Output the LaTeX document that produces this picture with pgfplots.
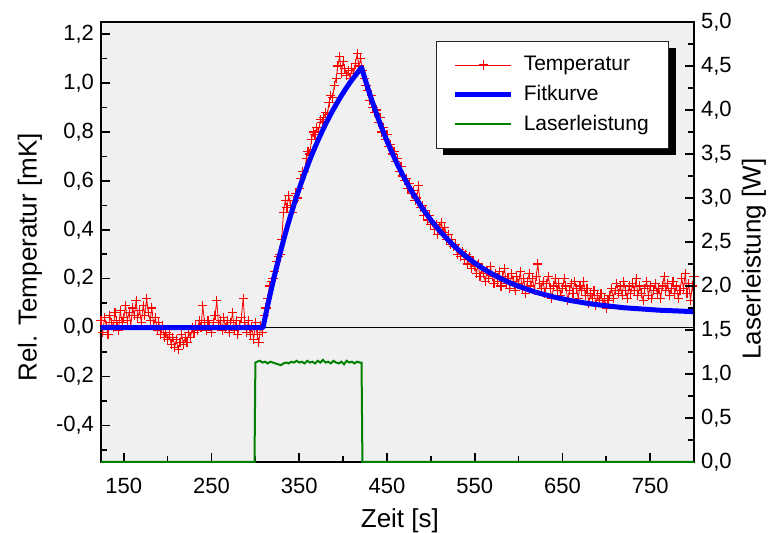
\documentclass[border=0pt]{standalone}
\usepackage{fontspec}
\setmainfont{Liberation Sans}
\usepackage{pgfplots}
\pgfplotsset{compat=1.18}
\definecolor{bggray}{RGB}{240,240,240}
\definecolor{dgreen}{RGB}{0,128,0}
\begin{document}
\begin{tikzpicture}
\pgfplotsset{
  every axis/.append style={
    scale only axis, width=296.5pt, height=220pt,
    xmin=124, xmax=800,
    tick align=inside,
    major tick length=4.5pt, minor tick length=3pt,
    every tick/.style={line width=0.8pt, black},
    axis line style={line width=1pt, black},
    tick label style={font=\fontsize{11}{13}\selectfont},
    /pgf/number format/assume math mode=true,
  },
}
\begin{axis}[
  ymin=-0.55, ymax=1.25,
  axis background/.style={fill=bggray},
  xtick={150,250,350,450,550,650,750},
  minor xtick={200,300,400,500,600,700},
  ytick={-0.4,-0.2,0,0.2,0.4,0.6,0.8,1.0,1.2},
  minor ytick={-0.5,-0.3,-0.1,0.1,0.3,0.5,0.7,0.9,1.1},
  xtick pos=bottom, ytick pos=left,
  xticklabel style={yshift=-4.5pt},
  yticklabel style={/pgf/number format/.cd, use comma, fixed, fixed zerofill, precision=1},
  xlabel={Zeit [s]},
  ylabel={Rel. Temperatur [mK]},
  every axis x label/.style={at={(axis description cs:0.504,-0.134)}, anchor=center, font=\fontsize{13}{15}\selectfont},
  every axis y label/.style={at={(axis description cs:-0.120,0.465)}, rotate=90, anchor=center, font=\fontsize{13}{15}\selectfont},
  legend cell align=left,
  legend image code/.code={\draw[mark repeat=2,mark phase=2,#1] plot coordinates {(0pt,0pt) (14pt,0pt) (28pt,0pt)};},
  legend style={name=leg, at={(0.958,0.957)}, anchor=north east,
    font=\fontsize{10.5}{12}\selectfont,
    draw=black!85, fill=white,
    inner xsep=8pt, inner ysep=5.5pt, row sep=1.8pt, column sep=3pt},
]
\coordinate (SW) at (rel axis cs:0,0);
\coordinate (NE) at (rel axis cs:1,1);
\addplot[black, line width=0.5pt, forget plot] coordinates {(124,0) (800,0)};
\addplot[red, line width=0.4pt, mark=+, mark size=2.3pt, mark options={red, solid, line width=0.55pt}] coordinates {
(124,0.03) (126,-0.02) (128,0.04) (130,0.01) (132,-0.03) (134,0.05) (136,0.02) (138,0.00) (140,0.06) (142,0.03)
(144,-0.01) (146,0.07) (148,0.02) (150,0.04) (152,0.09) (154,0.03) (156,0.06) (158,0.01) (160,0.08) (162,0.05)
(164,0.11) (166,0.04) (168,0.07) (170,0.02) (172,0.09) (174,0.05) (176,0.12) (178,0.06) (180,0.03) (182,0.08)
(184,0.01) (186,0.04) (188,-0.01) (190,0.02) (192,-0.03) (194,0.01) (196,-0.04) (198,-0.02) (200,-0.05) (202,-0.03)
(204,-0.07) (206,-0.04) (208,-0.08) (210,-0.05) (212,-0.09) (214,-0.06) (216,-0.03) (218,-0.07) (220,-0.04) (222,-0.06)
(224,-0.02) (226,-0.04) (228,0.00) (230,-0.02) (232,0.01) (234,-0.01) (236,0.03) (238,0.00) (240,0.09) (242,0.02)
(244,-0.01) (246,0.03) (248,0.01) (250,-0.02) (252,0.02) (254,0.05) (256,0.11) (258,0.01) (260,0.03) (262,-0.01)
(264,0.04) (266,0.00) (268,0.03) (270,-0.02) (272,0.02) (274,0.06) (276,-0.01) (278,0.03) (280,-0.03) (282,0.01)
(284,0.04) (286,0.12) (288,0.02) (290,-0.02) (292,0.03) (294,-0.03) (296,0.00) (298,-0.05) (300,0.02) (302,-0.03)
(304,-0.06) (306,0.01) (308,-0.02)
(310,0.05) (312,0.08) (314,0.12) (316,0.17) (318,0.19) (320,0.20) (322,0.23) (324,0.27) (326,0.29) (328,0.30)
(330,0.36) (332,0.47) (334,0.52) (336,0.49) (338,0.54) (340,0.50) (342,0.47) (344,0.52) (346,0.55) (348,0.53)
(350,0.57) (352,0.61) (354,0.64) (356,0.64) (358,0.69) (360,0.72) (362,0.71) (364,0.77) (366,0.80) (368,0.79)
(370,0.82) (372,0.80) (374,0.85) (376,0.84) (378,0.86) (380,0.88) (382,0.87) (384,0.92) (386,0.95) (388,0.94)
(390,0.99) (392,1.02) (394,1.07) (396,1.11) (398,1.04) (400,1.09) (402,1.06) (404,1.03) (406,1.05) (408,1.02)
(410,1.06) (412,1.04) (414,1.08) (416,1.12) (418,1.07) (420,1.10)
(422,1.05) (424,1.02) (426,0.99) (428,0.97) (430,0.93) (432,0.95) (434,0.90) (436,0.88) (438,0.89) (440,0.84)
(442,0.86) (444,0.80) (446,0.82) (448,0.77) (450,0.79) (452,0.74) (454,0.75) (456,0.71) (458,0.72) (460,0.68)
(462,0.69) (464,0.64) (466,0.66) (468,0.62) (470,0.60) (472,0.61) (474,0.57) (476,0.59) (478,0.55) (480,0.56)
(482,0.52) (484,0.53) (486,0.58) (488,0.49) (490,0.50) (492,0.46) (494,0.48) (496,0.44) (498,0.46) (500,0.42)
(502,0.43) (504,0.40) (506,0.42) (508,0.38) (510,0.41) (512,0.43) (514,0.39) (516,0.41) (518,0.36) (520,0.38)
(522,0.34) (524,0.36) (526,0.33) (528,0.34) (530,0.30) (532,0.32) (534,0.29) (536,0.31) (538,0.28) (540,0.30)
(542,0.26) (544,0.29) (546,0.24) (548,0.27) (550,0.25) (552,0.22) (554,0.26) (556,0.21) (558,0.24) (560,0.22)
(562,0.19) (564,0.23) (566,0.20) (568,0.25) (570,0.21) (572,0.18) (574,0.22) (576,0.19) (578,0.23) (580,0.17)
(582,0.21) (584,0.24) (586,0.18) (588,0.20) (590,0.16) (592,0.22) (594,0.19) (596,0.15) (598,0.21) (600,0.18)
(602,0.23) (604,0.16) (606,0.20) (608,0.14) (610,0.19) (612,0.22) (614,0.17) (616,0.20) (618,0.15) (620,0.21)
(622,0.26) (624,0.18) (626,0.16) (628,0.19) (630,0.14) (632,0.18) (634,0.21) (636,0.16) (638,0.12) (640,0.17)
(642,0.20) (644,0.15) (646,0.18) (648,0.13) (650,0.16) (652,0.20) (654,0.17) (656,0.11) (658,0.15) (660,0.18)
(662,0.14) (664,0.19) (666,0.16) (668,0.12) (670,0.17) (672,0.15) (674,0.19) (676,0.13) (678,0.16) (680,0.10)
(682,0.14) (684,0.12) (686,0.15) (688,0.09) (690,0.13) (692,0.11) (694,0.14) (696,0.10) (698,0.12) (700,0.08)
(702,0.11) (704,0.13) (706,0.16) (708,0.12) (710,0.15) (712,0.18) (714,0.14) (716,0.17) (718,0.13) (720,0.19)
(722,0.15) (724,0.12) (726,0.17) (728,0.14) (730,0.18) (732,0.15) (734,0.20) (736,0.13) (738,0.17) (740,0.14)
(742,0.11) (744,0.16) (746,0.19) (748,0.13) (750,0.17) (752,0.12) (754,0.15) (756,0.18) (758,0.14) (760,0.16)
(762,0.12) (764,0.17) (766,0.21) (768,0.15) (770,0.18) (772,0.13) (774,0.16) (776,0.19) (778,0.14) (780,0.17)
(782,0.12) (784,0.15) (786,0.20) (788,0.16) (790,0.22) (792,0.14) (794,0.18) (796,0.11) (798,0.17) (800,0.21)
};
\addlegendentry{Temperatur}
\addlegendimage{blue, line width=2.5pt}
\addlegendentry{Fitkurve}
\addlegendimage{dgreen, line width=0.8pt}
\addlegendentry{Laserleistung}
\end{axis}
\begin{axis}[
  ymin=-0.55, ymax=1.25,
  hide axis,
]
\addplot[blue, line width=2.5pt, line join=round] coordinates {
(124,0) (308.7,0) (312,0.057) (316,0.123) (320,0.186) (324,0.245) (328,0.302) (332,0.356) (336,0.408) (340,0.457)
(344,0.503) (348,0.547) (352,0.589) (356,0.629) (360,0.667) (364,0.704) (368,0.738) (372,0.771) (376,0.802) (380,0.832)
(384,0.860) (388,0.887) (392,0.912) (396,0.937) (400,0.960) (404,0.982) (408,1.003) (412,1.022) (416,1.041) (421,1.064)
(425,1.016) (430,0.959) (435,0.906) (440,0.855) (445,0.808) (450,0.763) (455,0.722) (460,0.682) (465,0.645) (470,0.610)
(475,0.577) (480,0.546) (490,0.490) (500,0.440) (510,0.396) (520,0.357) (530,0.322) (540,0.291) (550,0.264) (560,0.240)
(570,0.219) (580,0.200) (590,0.183) (600,0.169) (620,0.144) (640,0.125) (660,0.110) (680,0.098) (700,0.089) (720,0.081)
(740,0.076) (760,0.071) (780,0.068) (800,0.065)
};
\end{axis}
\begin{axis}[
  ymin=0, ymax=5,
  axis x line=none, axis y line*=right,
  ytick={0,0.5,1,1.5,2,2.5,3,3.5,4,4.5,5},
  minor ytick={0.25,0.75,1.25,1.75,2.25,2.75,3.25,3.75,4.25,4.75},
  yticklabel style={/pgf/number format/.cd, use comma, fixed, fixed zerofill, precision=1},
  ylabel={Laserleistung [W]},
  every axis y label/.style={at={(axis description cs:1.101,0.461)}, rotate=90, anchor=center, font=\fontsize{13}{15}\selectfont},
  clip=false,
]
\addplot[dgreen, line width=1pt] coordinates {
(124,0) (299,0) (300,1.13) (302,1.14) (305,1.15) (308,1.13) (311,1.14) (314,1.12) (317,1.14) (320,1.13)
(323,1.12) (326,1.11) (329,1.10) (332,1.12) (335,1.13) (338,1.12) (341,1.14) (344,1.13) (347,1.15) (350,1.13)
(353,1.14) (356,1.12) (359,1.15) (362,1.13) (365,1.14) (368,1.12) (371,1.15) (374,1.13) (377,1.16) (380,1.13)
(383,1.14) (386,1.12) (389,1.15) (392,1.13) (395,1.12) (398,1.14) (401,1.11) (404,1.15) (407,1.13) (410,1.14)
(413,1.12) (416,1.14) (419,1.13) (421,1.13) (422,0) (800,0)
};
\end{axis}
\fill[black] ([yshift=-3.3pt]leg.north east) rectangle ([xshift=3.3pt,yshift=-3.3pt]leg.south east);
\fill[black] ([xshift=3.3pt]leg.south west) rectangle ([xshift=3.3pt,yshift=-3.3pt]leg.south east);
\pgfresetboundingbox
\path[use as bounding box] ([shift={(-50.5pt,-35.5pt)}]SW) rectangle ([shift={(38pt,11pt)}]NE);
\end{tikzpicture}
\end{document}
